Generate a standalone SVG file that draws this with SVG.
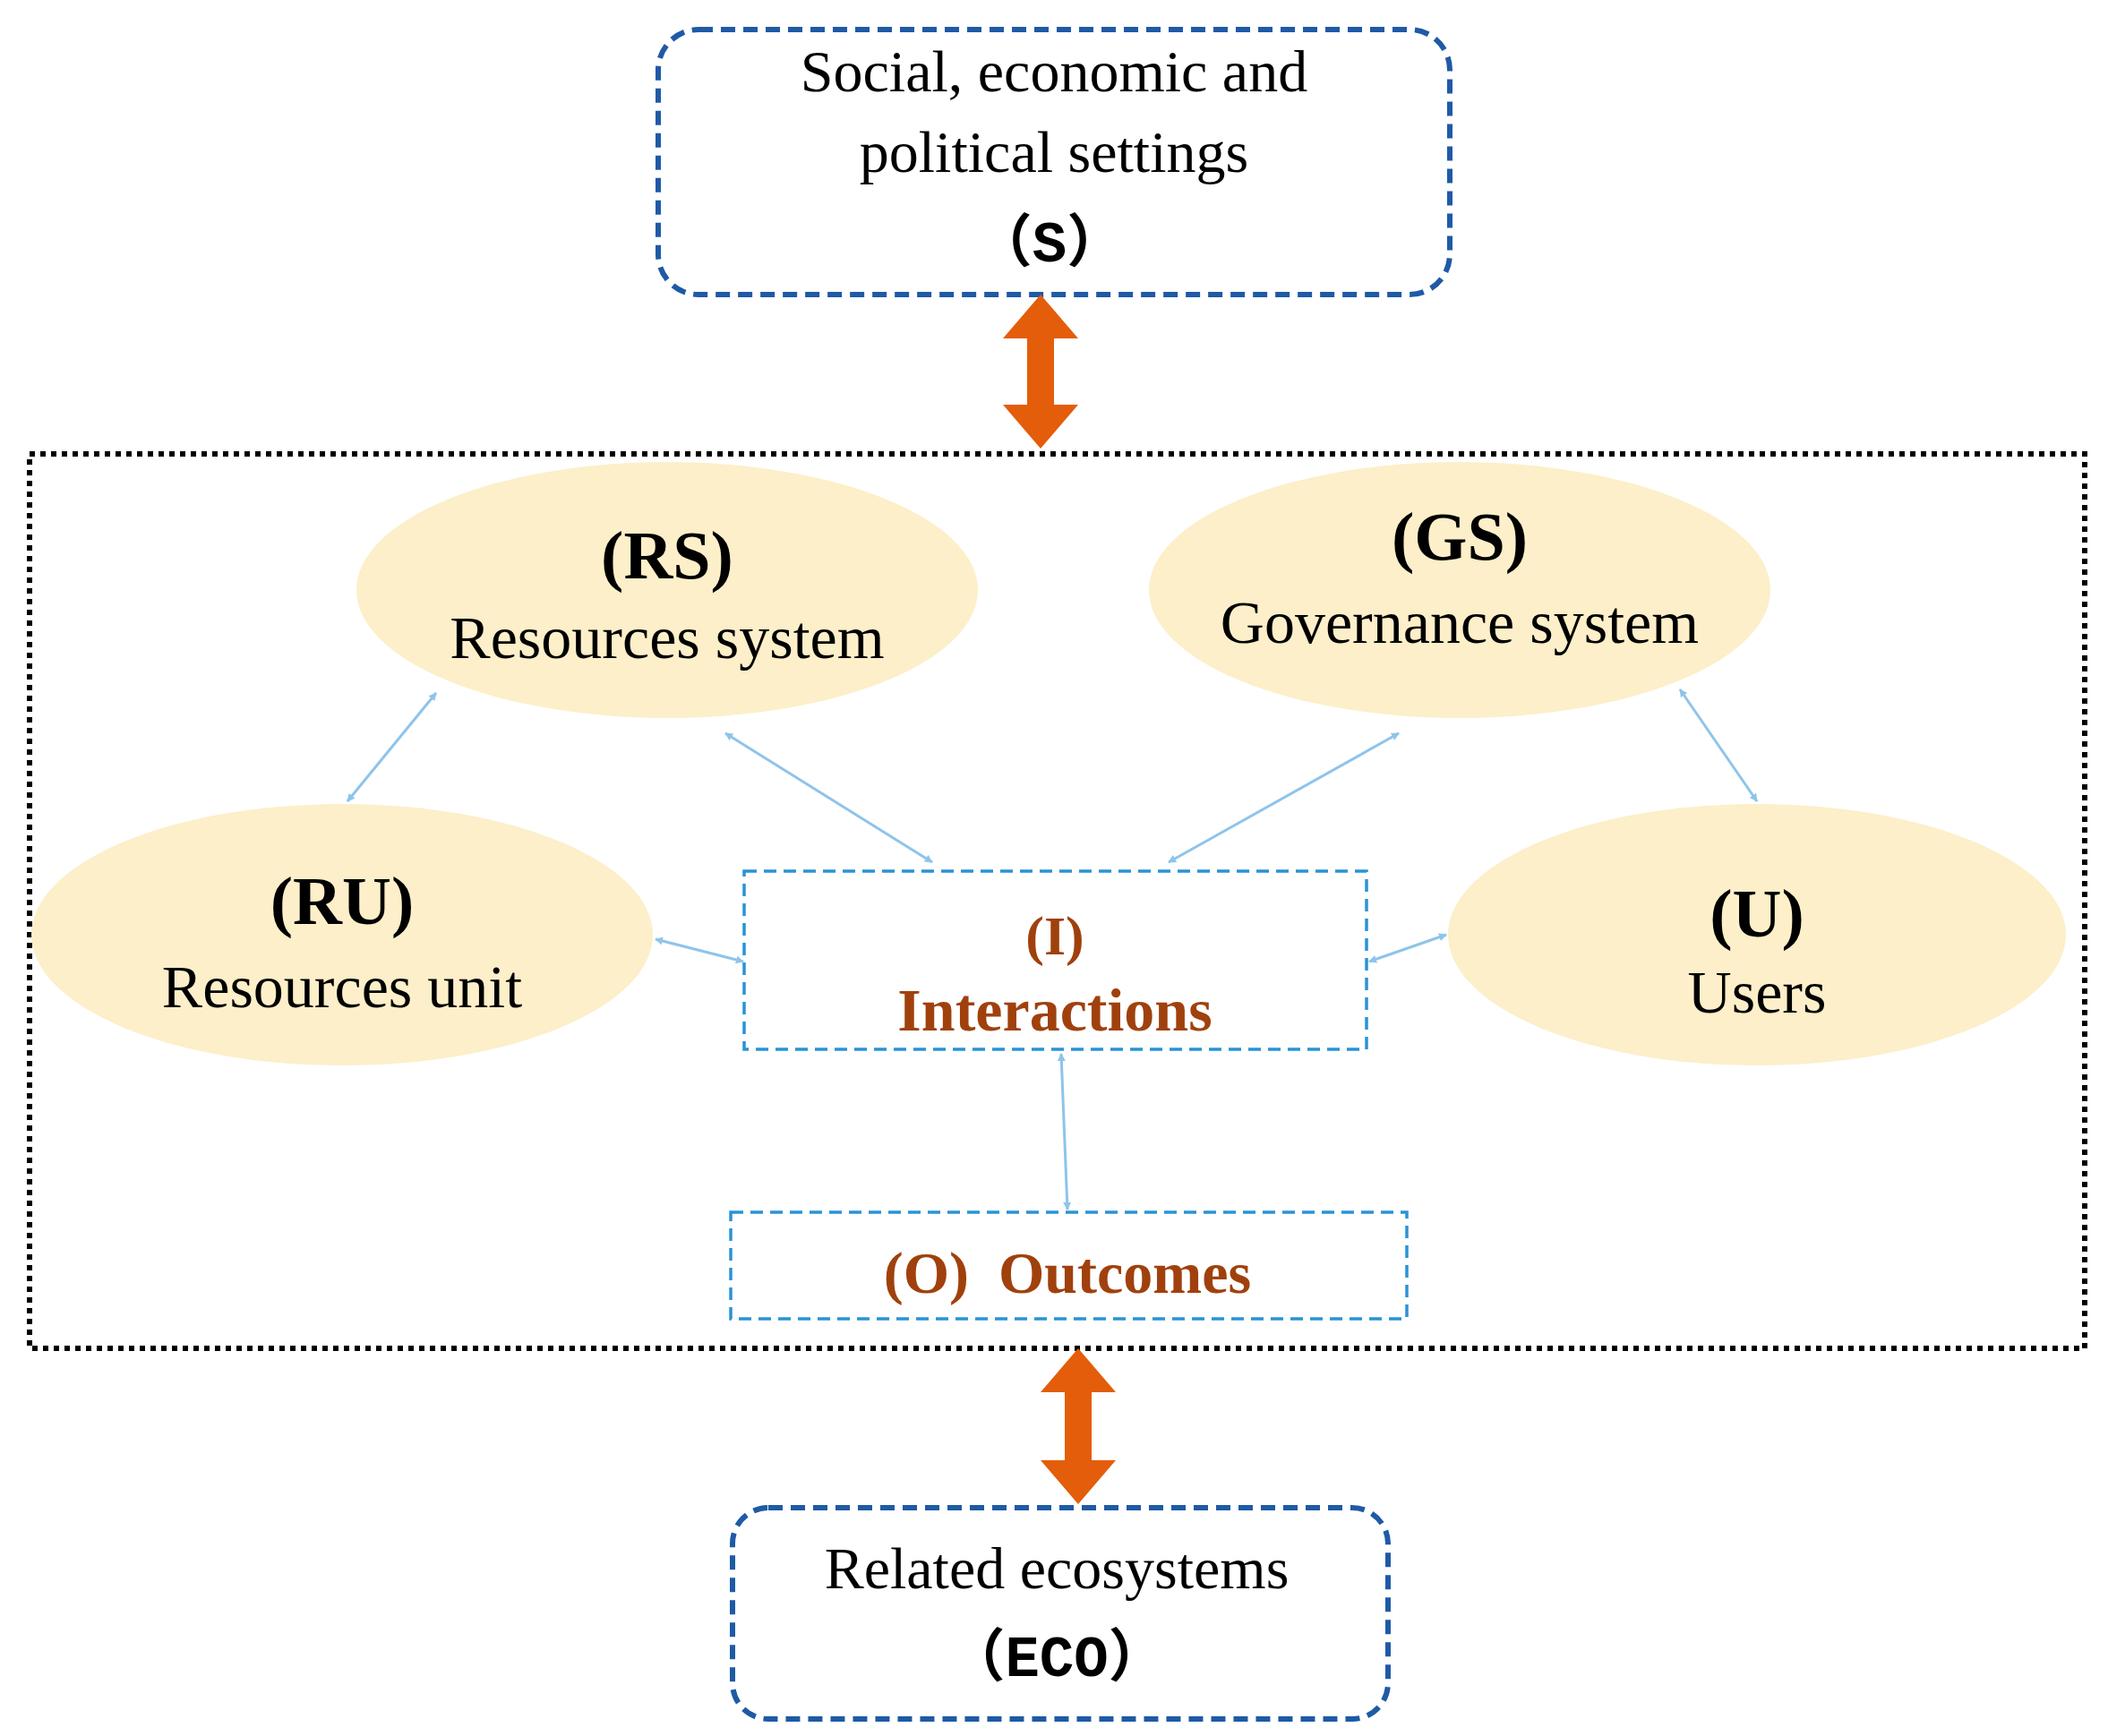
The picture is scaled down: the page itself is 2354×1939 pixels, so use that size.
<svg xmlns="http://www.w3.org/2000/svg" width="2354" height="1939" viewBox="0 0 2354 1939">
<style>
.dk{fill:none;stroke:#1f5aa6;stroke-width:6;stroke-dasharray:16 9}
.lb{fill:#fff;stroke:#2a93d5;stroke-width:3.5;stroke-dasharray:14 8}
.el{fill:#fcefc9}
.t{font-family:"Liberation Serif",serif;fill:#000;text-anchor:middle}
.b{font-weight:bold}
.r{fill:#a0410d}
.c{font-family:"Liberation Mono","Noto Sans CJK SC",monospace;font-weight:bold;text-anchor:middle}
.ln{stroke:#8ec4ea;stroke-width:3;marker-start:url(#a);marker-end:url(#a)}
.or{fill:#e35d0a}
</style>
<defs>
<marker id="a" viewBox="0 0 10 10" refX="9" refY="5" markerWidth="9" markerHeight="9" markerUnits="userSpaceOnUse" orient="auto-start-reverse"><path d="M0,0L10,5L0,10z" fill="#8ec4ea"/></marker>
</defs>
<rect width="2354" height="1939" fill="#fff"/>
<rect x="33" y="507" width="2295" height="999" fill="none" stroke="#000" stroke-width="6" stroke-dasharray="6 6"/>
<g id="S"><rect class="dk" x="735" y="33" width="884" height="296" rx="45"/>
<text class="t" x="1177" y="102" font-size="66">Social, economic and</text>
<text class="t" x="1177" y="192" font-size="66">political  settings</text>
<text class="c" x="1172" y="292" font-size="64">（S）</text></g>
<g id="RS"><ellipse class="el" cx="745" cy="659" rx="347" ry="143"/>
<text class="t b" x="745" y="646" font-size="76">(RS)</text>
<text class="t" x="745" y="735" font-size="68">Resources system</text></g>
<g id="GS"><ellipse class="el" cx="1630" cy="659" rx="347" ry="143"/>
<text class="t b" x="1630" y="625" font-size="76">(GS)</text>
<text class="t" x="1630" y="718" font-size="68">Governance system</text></g>
<g id="RU"><ellipse class="el" cx="382" cy="1044" rx="347" ry="146"/>
<text class="t b" x="382" y="1032" font-size="76">(RU)</text>
<text class="t" x="382" y="1125" font-size="68">Resources unit</text></g>
<g id="U"><ellipse class="el" cx="1962" cy="1044" rx="345" ry="146"/>
<text class="t b" x="1962" y="1046" font-size="76">(U)</text>
<text class="t" x="1962" y="1131" font-size="68">Users</text></g>
<g id="I"><rect class="lb" x="831" y="973" width="695" height="199"/>
<text class="t b r" x="1178" y="1066" font-size="62">(I)</text>
<text class="t b r" x="1178" y="1151" font-size="68">Interactions</text></g>
<g id="O"><rect class="lb" x="816" y="1354" width="755" height="119"/>
<text class="t b r" x="1192" y="1444" font-size="66" xml:space="preserve">(O)  Outcomes</text></g>
<g id="ECO"><rect class="dk" x="818" y="1684" width="732" height="236" rx="40"/>
<text class="t" x="1180" y="1774" font-size="66">Related ecosystems</text>
<text class="c" x="1180" y="1872" font-size="64">（ECO）</text></g>
<g id="connectors">
<path class="or" d="M1162,329L1204,378H1177V452H1204L1162,501L1120,452H1147V378H1120Z"/>
<path class="or" d="M1204,1506L1246,1555H1219V1631H1246L1204,1680L1162,1631H1189V1555H1162Z"/>
<line class="ln" x1="487" y1="774" x2="388" y2="895"/>
<line class="ln" x1="810" y1="819" x2="1041" y2="963"/>
<line class="ln" x1="1562" y1="819" x2="1305" y2="963"/>
<line class="ln" x1="1876" y1="770" x2="1962" y2="895"/>
<line class="ln" x1="732" y1="1049" x2="830" y2="1074"/>
<line class="ln" x1="1529" y1="1074" x2="1615" y2="1044"/>
<line class="ln" x1="1185" y1="1177" x2="1192" y2="1351"/>
</g>
</svg>
